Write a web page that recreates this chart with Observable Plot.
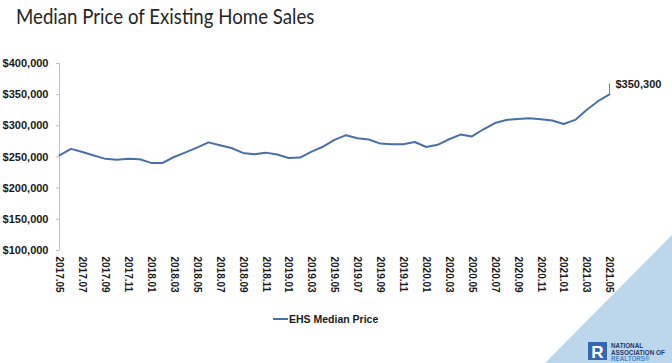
<!DOCTYPE html>
<html>
<head>
<meta charset="utf-8">
<script src="https://cdn.jsdelivr.net/npm/d3@7"></script>
<script src="https://cdn.jsdelivr.net/npm/@observablehq/plot@0.6"></script>
<style>
  html, body { margin: 0; padding: 0; background: #fff; }
  #wrap { position: relative; width: 672px; height: 363px; overflow: hidden; font-family: "Liberation Sans", Arial, sans-serif; }
  #bg { position: absolute; left: 0; top: 0; }
  #chart { position: absolute; left: 0; top: 0; }
  #title { position: absolute; left: 16px; top: 4px; font-family: Lato, "Liberation Sans", sans-serif; font-size: 20.5px; color: #262626; white-space: nowrap; transform: scaleX(0.91); transform-origin: left top; }
  #legend { position: absolute; left: 273px; top: 313px; font-size: 10.5px; font-weight: bold; color: #1a1a1a; display: flex; align-items: center; white-space: nowrap; }
  #legend .sw { display: inline-block; width: 15px; height: 2px; background: #4a70a8; margin-right: 1px; }
</style>
</head>
<body>
<div id="wrap">
  <svg id="bg" width="672" height="363">
    <polygon points="672,235 672,363 545,363" fill="#bcd6ec"></polygon>
    <rect x="588" y="342" width="19" height="18" fill="#3567b0"></rect>
    <text x="597.5" y="358" text-anchor="middle" font-family="Liberation Sans, Arial" font-weight="bold" font-size="17" fill="#fff">R</text>
    <text x="611" y="348" font-family="Liberation Sans, Arial" font-weight="bold" font-size="6.3" fill="#1f3864">NATIONAL</text>
    <text x="611" y="354.5" font-family="Liberation Sans, Arial" font-weight="bold" font-size="6.3" fill="#1f3864">ASSOCIATION OF</text>
    <text x="611" y="361" font-family="Liberation Sans, Arial" font-weight="bold" font-size="6.3" fill="#4a86c8">REALTORS®</text>
  </svg>
  <div id="chart"></div>
  <div id="title">Median Price of Existing Home Sales</div>
  <div id="legend"><span class="sw"></span><span>EHS Median Price</span></div>
</div>
<script>
// Months (category axis)
const months = [
  "2017.05","2017.06","2017.07","2017.08","2017.09","2017.10","2017.11","2017.12",
  "2018.01","2018.02","2018.03","2018.04","2018.05","2018.06","2018.07","2018.08","2018.09","2018.10","2018.11","2018.12",
  "2019.01","2019.02","2019.03","2019.04","2019.05","2019.06","2019.07","2019.08","2019.09","2019.10","2019.11","2019.12",
  "2020.01","2020.02","2020.03","2020.04","2020.05","2020.06","2020.07","2020.08","2020.09","2020.10","2020.11","2020.12",
  "2021.01","2021.02","2021.03","2021.04","2021.05"
];
// EHS median price (USD)
const medianPrice = [
  252800, 263000, 258000, 252500, 247000, 245500, 247000, 246500,
  240500, 240500, 250000, 257500, 265000, 273500, 269000, 264500, 256500, 254500, 257000, 254000,
  248500, 249000, 258500, 266500, 277500, 285000, 280000, 278000, 271500, 270500, 270500, 274000,
  266000, 269500, 278500, 286000, 283000, 294500, 304500, 309500, 311000, 312000, 310500, 308500,
  303000, 309500, 325500, 339500, 350300
];
const xTickLabels = [
  "2017.05","2017.07","2017.09","2017.11","2018.01","2018.03","2018.05","2018.07","2018.09","2018.11",
  "2019.01","2019.03","2019.05","2019.07","2019.09","2019.11","2020.01","2020.03","2020.05","2020.07",
  "2020.09","2020.11","2021.01","2021.03","2021.05"
];
const yTicks = [100000, 150000, 200000, 250000, 300000, 350000, 400000];
const annotationLabel = "$350,300";
const annotationTop = 368000;

const data = months.map((m, i) => ({month: m, value: medianPrice[i]}));
const last = data[data.length - 1];
const lineColor = "#4a70a8";

const chart = Plot.plot({
  width: 672,
  height: 363,
  marginTop: 63,
  marginBottom: 113,
  marginLeft: 59,
  marginRight: 63,
  style: {background: "transparent", fontFamily: "Liberation Sans, Arial, sans-serif", color: "#1a1a1a"},
  x: {type: "point", domain: months, padding: 0, round: false},
  y: {domain: [100000, 400000]},
  marks: [
    Plot.ruleX([months[0]], {stroke: "#bfbfbf", strokeWidth: 1}),
    Plot.axisY({
      ticks: yTicks,
      tickFormat: d => "$" + d3.format(",")(d),
      tickSize: 3,
      tickPadding: 8,
      stroke: "#bfbfbf",
      fill: "#1a1a1a",
      fontSize: 11,
      fontWeight: "bold",
      label: null
    }),
    Plot.axisX({
      ticks: xTickLabels,
      tickRotate: 90,
      tickSize: 0,
      tickPadding: 6,
      fill: "#1a1a1a",
      fontSize: 10,
      fontWeight: "bold",
      label: null
    }),
    Plot.line(data, {x: "month", y: "value", stroke: lineColor, strokeWidth: 2}),
    Plot.link([last], {x1: "month", x2: "month", y1: "value", y2: () => annotationTop, stroke: "#7f7f7f", strokeWidth: 1}),
    Plot.text([last], {x: "month", y: () => annotationTop, text: () => annotationLabel, textAnchor: "start", dx: 6, dy: 1, fontSize: 11, fontWeight: "bold", fill: "#1a1a1a"})
  ]
});
document.getElementById("chart").appendChild(chart);
</script>
</body>
</html>
